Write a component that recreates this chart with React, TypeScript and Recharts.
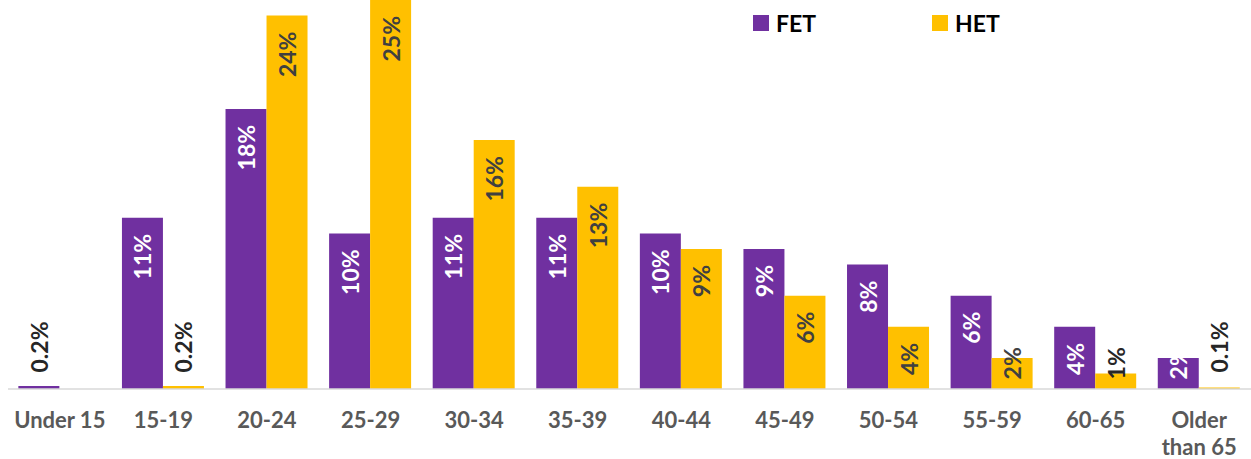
import React from 'react';
import { BarChart, Bar, XAxis, YAxis, LabelList } from 'recharts';

const AGE_GROUPS = ['Under 15', '15-19', '20-24', '25-29', '30-34', '35-39', '40-44', '45-49', '50-54', '55-59', '60-65', 'Older than 65'];
const FET = [0.2, 11, 18, 10, 11, 11, 10, 9, 8, 6, 4, 2];
const HET = [0, 0.2, 24, 25, 16, 13, 9, 6, 4, 2, 1, 0.1];
const FET_LABELS = ['0.2%', '11%', '18%', '10%', '11%', '11%', '10%', '9%', '8%', '6%', '4%', '2%'];
const HET_LABELS = ['', '0.2%', '24%', '25%', '16%', '13%', '9%', '6%', '4%', '2%', '1%', '0.1%'];

const data = AGE_GROUPS.map((g, i) => ({
  group: g,
  FET: FET[i],
  HET: HET[i],
  fetLabel: FET_LABELS[i],
  hetLabel: HET_LABELS[i],
}));

const FONT = 'Lato, "Open Sans", sans-serif';
const PURPLE = '#7030A0';
const YELLOW = '#FFC000';
const BASE_Y = 389;

// rotated label: inside near the top, but never lower than a fixed line above the axis
const makeLabel = (inside: string, outside: string) => (props: any) => {
  const { x, y, width, value } = props;
  if (!value) return null;
  const fontSize = 23;
  const len = String(value).length * fontSize * 0.56;
  const cx = x + width / 2;
  let endY = y + 16;
  const bottomLimit = BASE_Y - 16;
  let color = inside;
  if (endY + len > bottomLimit) {
    endY = bottomLimit - len;
    if (bottomLimit - y < len / 2) color = outside;
  }
  return (
    <text
      x={cx}
      y={endY}
      transform={`rotate(-90, ${cx}, ${endY})`}
      textAnchor="end"
      dominantBaseline="central"
      fill={color}
      fontFamily={FONT}
      fontWeight={700}
      fontSize={fontSize}
    >
      {value}
    </text>
  );
};

const AgeTick = (props: any) => {
  const { x, y, payload } = props;
  const label: string = payload.value;
  let lines = [label];
  if (label.length > 10) {
    const idx = label.indexOf(' ');
    lines = [label.slice(0, idx), label.slice(idx + 1)];
  }
  return (
    <text x={x} y={y + 31} textAnchor="middle" fill="#595959" fontFamily={FONT} fontWeight={700} fontSize={22}>
      {lines.map((l, i) => (
        <tspan key={i} x={x} dy={i === 0 ? 0 : 27}>
          {l}
        </tspan>
      ))}
    </text>
  );
};

const LegendBox = () => (
  <div style={{ position: 'absolute', left: 0, top: 0, fontFamily: FONT, fontWeight: 700, fontSize: 23, color: '#000' }}>
    {[
      { name: 'FET', color: PURPLE, left: 753 },
      { name: 'HET', color: YELLOW, left: 932 },
    ].map((s) => (
      <div key={s.name} style={{ position: 'absolute', left: s.left, top: 11, display: 'flex', alignItems: 'center', whiteSpace: 'nowrap' }}>
        <span style={{ width: 16, height: 16, background: s.color, display: 'inline-block', marginRight: 7 }} />
        <span style={{ lineHeight: '24px' }}>{s.name}</span>
      </div>
    ))}
  </div>
);

export default function App() {
  return (
    <div style={{ position: 'absolute', left: 0, top: 0, width: 1251, height: 459, background: '#fff' }}>
      <BarChart
        width={1251}
        height={459}
        data={data}
        margin={{ top: 0, right: 0, left: 8, bottom: 0 }}
        barCategoryGap="10%"
        barGap={0}
      >
        <XAxis
          dataKey="group"
          height={70}
          interval={0}
          tickLine={false}
          axisLine={{ stroke: '#D9D9D9', strokeWidth: 1.5 }}
          tick={<AgeTick />}
        />
        <YAxis hide domain={[0, 25]} />
        <Bar dataKey="FET" fill={PURPLE} isAnimationActive={false}>
          <LabelList dataKey="fetLabel" content={makeLabel('#FFFFFF', '#262626')} />
        </Bar>
        <Bar dataKey="HET" fill={YELLOW} isAnimationActive={false}>
          <LabelList dataKey="hetLabel" content={makeLabel('#404040', '#262626')} />
        </Bar>
      </BarChart>
      <LegendBox />
    </div>
  );
}
